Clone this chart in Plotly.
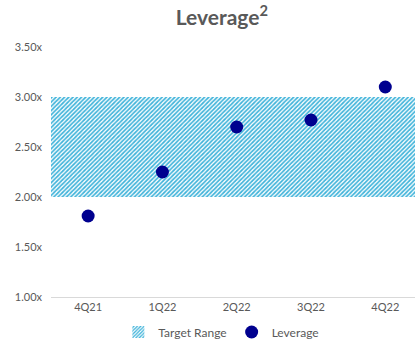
import plotly.graph_objects as go

quarters = ["4Q21", "1Q22", "2Q22", "3Q22", "4Q22"]
leverage = [1.81, 2.25, 2.70, 2.77, 3.10]
target_low = [2.0, 2.0, 2.0, 2.0, 2.0]
target_high = [3.0, 3.0, 3.0, 3.0, 3.0]
y_ticks = [1.0, 1.5, 2.0, 2.5, 3.0, 3.5]

fig = go.Figure()
fig.add_trace(go.Bar(
    x=quarters,
    y=[h - l for h, l in zip(target_high, target_low)],
    base=target_low,
    name="Target Range",
    width=1.0,
    marker=dict(color="#FFFFFF", line=dict(width=0),
                pattern=dict(shape="/", fgcolor="#3FB3DA", bgcolor="#FFFFFF",
                             size=3, solidity=0.55, fillmode="replace")),
    hoverinfo="skip",
))
fig.add_trace(go.Scatter(
    x=quarters, y=leverage, mode="markers", name="Leverage",
    marker=dict(color="#00008F", size=13),
))

fig.update_layout(
    width=417, height=356,
    margin=dict(l=51, r=2, t=47, b=59),
    paper_bgcolor="white", plot_bgcolor="white",
    font=dict(family="Lato, Open Sans, sans-serif", color="#595959", size=11),
    title=dict(text="<b>Leverage<sup>2</sup></b>", x=0.532, xanchor="center",
               y=0.95, yanchor="middle",
               font=dict(size=21, color="#595959")),
    bargap=0,
    showlegend=True,
    legend=dict(orientation="h", x=0.185, xanchor="left", y=-0.14, yanchor="middle",
                font=dict(size=12, color="#595959"), itemwidth=30),
    xaxis=dict(showgrid=False, showline=True, linecolor="#D9D9D9", linewidth=1,
               ticks="", tickfont=dict(size=11, color="#595959"),
               range=[-0.5, 4.40]),
    yaxis=dict(range=[1.0, 3.5], tickvals=y_ticks,
               ticktext=[f"{v:.2f}x" for v in y_ticks],
               showgrid=False, zeroline=False, showline=False,
               tickfont=dict(size=11, color="#595959"), ticks="",
               ticklabelstandoff=8),
)

fig.write_html("out.html")
